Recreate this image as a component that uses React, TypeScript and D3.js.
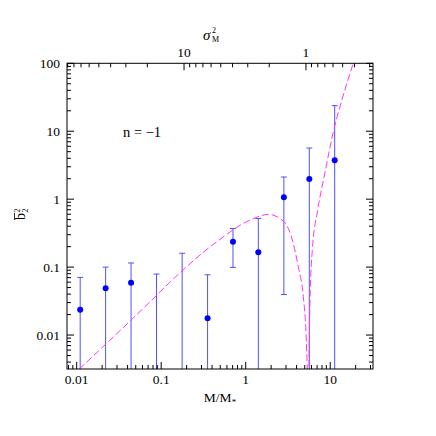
import React from 'react';
import * as d3 from 'd3';

// data
const massBins = [0.011, 0.022, 0.044, 0.088, 0.177, 0.354, 0.707, 1.41, 2.83, 5.66, 11.3];
const b2Values = [0.0235, 0.049, 0.0587, null, null, 0.0177, 0.236, 0.166, 1.07, 1.98, 3.73];
const b2Upper = [0.0705, 0.1, 0.115, 0.079, 0.16, 0.077, 0.37, 0.52, 2.12, 5.66, 23.8];
const b2Lower = [null, null, null, null, null, null, 0.099, null, 0.0396, null, null];

// model curve, two branches either side of the zero crossing
const curveLeftM = [0.01074, 0.0736, 0.1247, 0.454, 1.125, 1.85, 2.838, 3.656, 4.188, 4.808, 5.176, 5.358];
const curveLeftB2 = [0.00316, 0.0308, 0.0587, 0.236, 0.492, 0.597, 0.465, 0.223, 0.101, 0.0366, 0.0106, 0.00316];
const curveRightM = [5.61, 5.77, 6.14, 7.11, 8.69, 10.9, 14.2, 18.75];
const curveRightB2 = [0.0034, 0.0327, 0.178, 0.69, 2.49, 9.84, 33.0, 100];

const xTickLabels = ['0.01', '0.1', '1', '10'];
const yTickLabels = ['0.01', '0.1', '1', '10', '100'];
const sigmaTickLabels = ['10', '1'];

const W = 436, H = 436;
const left = 67, right = 373, top = 63.3, bottom = 369;

function logTicks(lo: number, hi: number) {
  const out: { v: number; major: boolean }[] = [];
  for (let e = -4; e <= 3; e++) {
    for (let k = 1; k <= 9; k++) {
      const v = k * Math.pow(10, e);
      if (v >= lo * 0.9999 && v <= hi * 1.0001) out.push({ v, major: k === 1 });
    }
  }
  return out;
}

const App = () => {
  const x = d3.scaleLog().domain([0.00768, 32.1]).range([left, right]);
  const y = d3.scaleLog().domain([Math.pow(10, -2.5), 100]).range([bottom, top]);
  const sig = d3.scaleLog().domain([Math.pow(10, 1.96), Math.pow(10, -0.55)]).range([left, right]);

  const xt = logTicks(0.00768, 32.1);
  const yt = logTicks(Math.pow(10, -2.5), 100);
  const st = logTicks(Math.pow(10, -0.55), Math.pow(10, 1.96));

  const line = d3.line<[number, number]>()
    .x(d => x(d[0]))
    .y(d => y(d[1]))
    .curve(d3.curveMonotoneX);

  const leftPts = curveLeftM.map((m, i) => [m, curveLeftB2[i]] as [number, number]);
  const rightPts = curveRightM.map((m, i) => [m, curveRightB2[i]] as [number, number]);

  const font = 'Liberation Serif, Times New Roman, serif';
  const major = 7, minor = 4;

  return (
    <svg width={W} height={H} style={{ position: 'absolute', left: 0, top: 0, background: '#fff' }}
      fontFamily={font}>
      <defs>
        <clipPath id="plot-clip">
          <rect x={left} y={top} width={right - left} height={bottom - top} />
        </clipPath>
      </defs>

      {/* error bars */}
      <g stroke="#5050ff" strokeWidth={1}>
        {massBins.map((m, i) => {
          const cx = x(m);
          const yHi = y(b2Upper[i]);
          const lo = b2Lower[i];
          const yLo = lo == null ? bottom : y(lo);
          return (
            <g key={i}>
              <line x1={cx} x2={cx} y1={yHi} y2={yLo} />
              <line x1={cx - 3} x2={cx + 3} y1={yHi} y2={yHi} />
              {lo != null && <line x1={cx - 3} x2={cx + 3} y1={yLo} y2={yLo} />}
            </g>
          );
        })}
      </g>

      {/* model curve */}
      <g clipPath="url(#plot-clip)" fill="none" stroke="#ff33ff" strokeWidth={1} strokeDasharray="7,3">
        <path d={line(leftPts) || ''} />
        <path d={line(rightPts) || ''} />
      </g>

      {/* points */}
      <g fill="#0000ff">
        {massBins.map((m, i) => b2Values[i] == null ? null :
          <circle key={i} cx={x(m)} cy={y(b2Values[i] as number)} r={3} />
        )}
      </g>

      {/* frame + ticks */}
      <g stroke="#000" strokeWidth={1} fill="none">
        <rect x={left} y={top} width={right - left} height={bottom - top} />
        {xt.map((t, i) => (
          <line key={'xb' + i} x1={x(t.v)} x2={x(t.v)} y1={bottom} y2={bottom - (t.major ? major : minor)} />
        ))}
        {st.map((t, i) => (
          <line key={'st' + i} x1={sig(t.v)} x2={sig(t.v)} y1={top} y2={top + (t.major ? major : minor)} />
        ))}
        {yt.map((t, i) => (
          <g key={'y' + i}>
            <line x1={left} x2={left + (t.major ? major : minor)} y1={y(t.v)} y2={y(t.v)} />
            <line x1={right} x2={right - (t.major ? major : minor)} y1={y(t.v)} y2={y(t.v)} />
          </g>
        ))}
      </g>

      {/* tick labels */}
      <g fontSize={13.5} fill="#000">
        {xTickLabels.map(l => (
          <text key={l} x={x(+l)} y={bottom + 15} textAnchor="middle">{l}</text>
        ))}
        {yTickLabels.map(l => (
          <text key={l} x={left - 7} y={y(+l) + 4.5} textAnchor="end">{l}</text>
        ))}
        {sigmaTickLabels.map(l => (
          <text key={l} x={sig(+l)} y={top - 6} textAnchor="middle">{l}</text>
        ))}
      </g>

      {/* axis titles */}
      <text x={220} y={402} textAnchor="middle" fontSize={13.5}>
        M/M<tspan fontSize={9} dy={3}>*</tspan>
      </text>
      <g fontSize={15}>
        <text x={203} y={40} fontStyle="italic">σ</text>
        <text x={212} y={33} fontSize={8}>2</text>
        <text x={212} y={42} fontSize={8}>M</text>
      </g>
      <g transform="translate(25,213) rotate(-90)">
        <text x={-7} y={0} fontSize={14}>b</text>
        <line x1={-7} x2={0} y1={-10.5} y2={-10.5} stroke="#000" strokeWidth={0.8} />
        <text x={0.5} y={-5} fontSize={8}>2</text>
        <text x={0.5} y={3} fontSize={8}>2</text>
      </g>
      <text x={123} y={137} fontSize={14.5}>n = −1</text>
    </svg>
  );
};

export default App;
